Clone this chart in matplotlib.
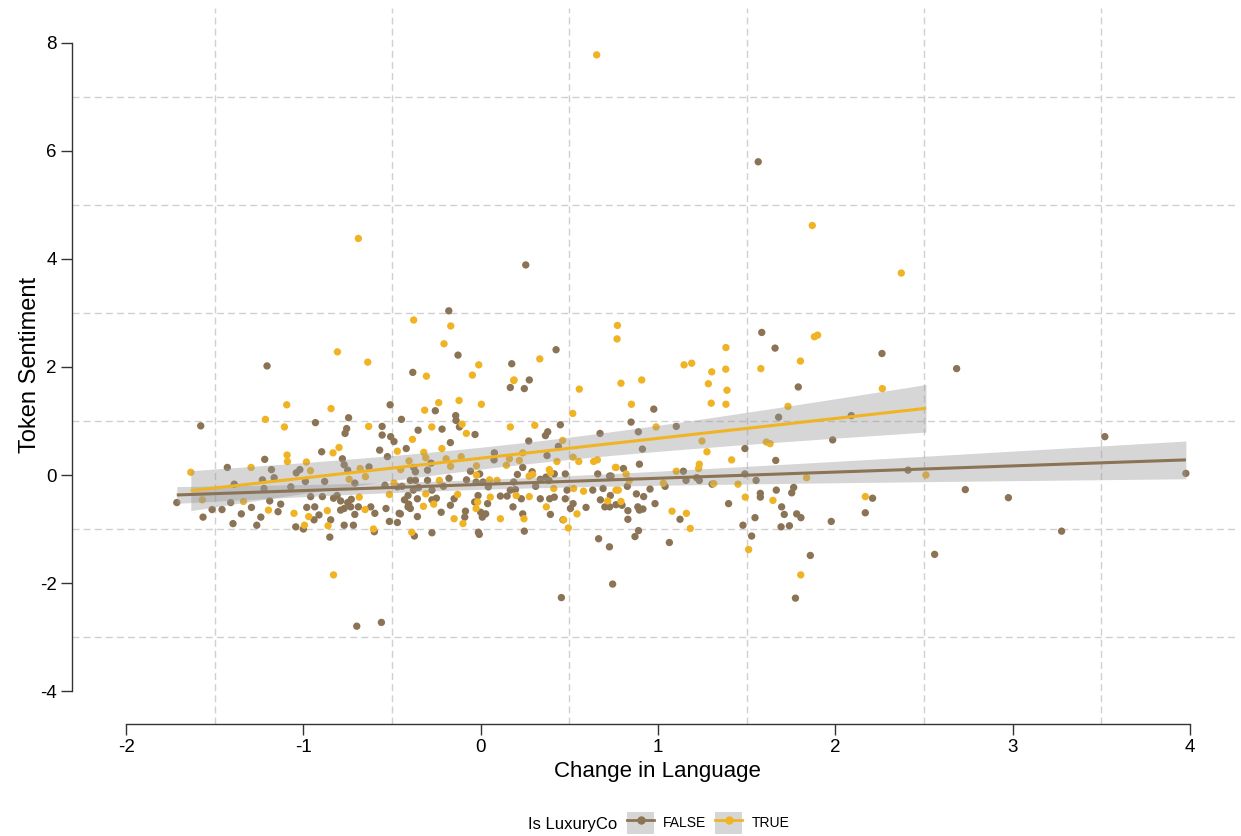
import numpy as np
import matplotlib
matplotlib.use("Agg")
import matplotlib.pyplot as plt
from matplotlib.lines import Line2D
from matplotlib.patches import Rectangle
from matplotlib.legend_handler import HandlerTuple

plt.rcParams['font.family'] = ['Liberation Sans', 'DejaVu Sans']

BROWN = '#8B7355'
GOLD = '#F0B323'

# Is LuxuryCo == TRUE  (change in language, token sentiment)
true_pts = [
    (-1.094, 1.30), (-0.844, 1.23), (-1.214, 1.03), (-1.107, 0.89), (-1.635, 0.05),
    (-1.092, 0.37), (-1.090, 0.25), (-1.295, 0.14), (-0.983, 0.24), (-0.833, 0.41),
    (-0.799, 0.51), (-0.632, 0.90), (-0.47, 0.44), (-1.338, -0.49), (-1.197, -0.65),
    (-1.053, -0.71), (-0.994, -0.93), (-0.97, -0.77), (-0.861, -0.94), (-0.865, -0.66),
    (-0.685, -0.41), (-0.652, -0.64), (-0.605, -1.0), (-0.515, -0.36), (-0.489, -0.15),
    (-0.451, 0.10), (-0.742, -0.08), (-0.68, 0.12), (-0.65, -0.03), (-0.96, 0.08),
    (-1.57, -0.46),
    (0.186, 1.75), (0.556, 1.59), (-0.316, 1.20), (-0.237, 1.34), (-0.122, 1.38),
    (0.004, 1.31), (-0.276, 0.89), (-0.105, 0.94), (-0.081, 0.77), (0.167, 0.89),
    (0.305, 0.92), (0.519, 1.14), (-0.385, 0.66), (-0.321, 0.42), (-0.31, 0.32),
    (-0.219, 0.49), (-0.11, 0.34), (-0.195, 0.30), (-0.17, 0.16), (-0.024, 0.17),
    (0.145, 0.18), (0.218, 0.27), (0.162, 0.30), (0.237, 0.41), (0.43, 0.25),
    (0.462, 0.64), (0.521, 0.33), (0.553, 0.25), (0.637, 0.25), (0.658, 0.28),
    (0.76, 0.14), (0.387, 0.10), (0.393, 0.04), (0.273, -0.02), (0.293, 0.01),
    (-0.404, 0.26), (-0.233, -0.10), (0.05, -0.09), (0.092, -0.10), (-0.024, 0.0),
    (-0.31, -0.35), (-0.323, -0.58), (-0.265, -0.54), (-0.13, -0.36), (-0.017, -0.50),
    (0.054, -0.41), (-0.026, -0.62), (-0.15, -0.81), (-0.10, -0.90), (0.111, -0.81),
    (0.20, -0.38), (0.274, -0.40), (0.244, -0.81), (0.37, -0.59), (0.412, -0.25),
    (0.468, -0.83), (0.494, -0.98), (0.543, -0.72), (0.524, -0.25), (0.58, -0.30),
    (0.716, -0.48), (0.763, -0.28), (-0.389, -1.06),
    (0.791, 1.70), (0.908, 1.76), (1.284, 1.69), (1.389, 1.57), (0.85, 1.31),
    (1.30, 1.33), (1.383, 1.31), (1.733, 1.27), (0.989, 0.89), (1.248, 0.63),
    (1.276, 0.43), (1.415, 0.28), (1.611, 0.61), (1.632, 0.58), (0.763, 0.14),
    (0.82, 0.02), (0.838, -0.10), (0.776, -0.28), (0.791, -0.49), (1.03, -0.15),
    (1.103, 0.07), (1.233, 0.20), (1.229, 0.12), (1.314, -0.16), (1.451, -0.17),
    (1.492, -0.41), (1.648, -0.47), (1.838, -0.05), (1.079, -0.67), (1.16, -0.71),
    (1.182, -0.99), (1.511, -1.38),
    (2.265, 1.60), (2.511, 0.0), (2.169, -0.40),
    (-0.69, 4.38), (-0.378, 2.87), (-0.808, 2.28), (-0.637, 2.09), (-0.306, 1.83),
    (-0.169, 2.76), (-0.207, 2.43), (-0.011, 2.04), (-0.047, 1.85), (0.188, 1.76),
    (0.333, 2.15), (0.771, 2.77), (0.769, 2.52), (1.147, 2.04), (1.19, 2.07),
    (1.87, 4.62), (2.372, 3.74), (1.882, 2.56), (1.90, 2.59), (1.383, 2.36),
    (1.303, 1.91), (1.382, 1.96), (1.58, 1.97), (1.803, 2.11),
    (-0.83, -1.85), (1.805, -1.85), (0.654, 7.78),
]

# Is LuxuryCo == FALSE
false_pts = [
    (-1.579, 0.91), (-1.714, -0.51), (-1.566, -0.78), (-1.515, -0.64), (-1.459, -0.64),
    (-1.429, 0.14), (-1.397, -0.90), (-1.35, -0.72), (-1.41, -0.51), (-1.39, -0.17),
    (-1.293, -0.60), (-1.263, -0.93), (-1.24, -0.78), (-1.218, 0.29), (-1.18, 0.10),
    (-1.165, -0.05), (-1.231, -0.09), (-1.222, -0.25), (-1.19, -0.48), (-1.143, -0.68),
    (-1.128, -0.54), (-1.071, -0.22), (-1.04, 0.04), (-1.02, 0.10), (-1.043, -0.96),
    (-1.0, -1.0), (-0.989, -0.12), (-0.981, -0.60), (-0.959, -0.40), (-0.932, 0.97),
    (-0.936, -0.59), (-0.94, -0.83), (-0.912, -0.74), (-0.897, 0.43), (-0.893, -0.40),
    (-0.88, -0.12), (-0.851, -1.15), (-0.846, -0.83), (-0.83, -0.43), (-0.78, 0.30),
    (-0.77, 0.19), (-0.765, 0.77), (-0.756, 0.86), (-0.745, 1.06), (-0.75, 0.09),
    (-0.77, -0.93), (-0.718, -0.93), (-0.733, -0.59), (-0.79, -0.65), (-0.71, -0.15),
    (-0.69, -0.59), (-0.63, 0.15), (-0.62, -0.59), (-0.60, -1.05), (-0.597, -0.71),
    (-0.57, 0.46), (-0.556, 0.90), (-0.556, 0.74), (-0.534, -0.62), (-0.526, 0.34),
    (-0.515, -0.86), (-0.511, 1.30), (-0.508, 0.71), (-0.489, 0.62), (-0.47, -0.88),
    (-0.46, -0.71), (-0.447, 1.03), (-0.43, -0.46), (-0.42, 0.49), (-0.54, -0.19),
    (-0.47, -0.22), (-0.41, -0.59),
    (-0.79, -0.48), (-0.75, -0.51), (-0.73, -0.45), (-0.71, -0.73), (-0.77, -0.62),
    (-0.81, -0.38),
    (0.167, 1.62), (0.246, 1.60), (-0.256, 1.19), (-0.141, 1.10), (-0.139, 1.01),
    (-0.12, 0.89), (-0.353, 0.83), (-0.218, 0.85), (-0.171, 0.60), (-0.032, 0.75),
    (0.271, 0.63), (0.365, 0.73), (0.378, 0.80), (0.449, 0.93), (0.673, 0.77),
    (0.077, 0.41), (0.374, 0.36), (0.438, 0.53), (-0.28, 0.22), (-0.378, 0.14),
    (-0.368, 0.06), (-0.30, 0.09), (-0.058, 0.07), (-0.006, 0.02), (0.075, 0.28),
    (0.237, 0.14), (0.207, 0.01), (0.29, 0.06), (0.336, -0.08), (0.368, -0.04),
    (0.415, 0.02), (0.477, 0.02), (0.66, 0.02), (0.727, -0.02), (-0.444, -0.21),
    (-0.397, -0.10), (-0.368, -0.10), (-0.35, -0.23), (-0.38, -0.28), (-0.41, -0.38),
    (-0.357, -0.44), (-0.30, -0.10), (-0.275, -0.28), (-0.21, -0.21), (-0.179, -0.06),
    (-0.08, -0.09), (-0.026, -0.13), (0.013, -0.13), (0.043, -0.22), (0.111, -0.39),
    (0.149, -0.39), (0.196, -0.27), (0.186, -0.13), (0.229, -0.44), (0.167, -0.28),
    (0.31, -0.21), (0.336, -0.44), (0.389, -0.44), (0.415, -0.41), (0.385, -0.10),
    (0.477, -0.44), (0.487, -0.28), (0.521, -0.53), (0.506, -0.62), (0.594, -0.60),
    (0.632, -0.28), (0.69, -0.25), (0.675, -0.46), (0.70, -0.59), (0.727, -0.59),
    (0.731, -0.38), (-0.453, -0.72), (-0.406, -0.54), (-0.397, -0.62), (-0.357, -0.77),
    (-0.275, -0.46), (-0.25, -0.43), (-0.223, -0.69), (-0.171, -0.56), (-0.15, -0.44),
    (-0.086, -0.67), (-0.09, -0.78), (-0.034, -0.50), (-0.015, -0.38), (0.0, -0.69),
    (0.009, -0.78), (0.028, -0.72), (-0.013, -1.06), (-0.008, -1.10), (0.039, -0.53),
    (0.182, -0.59), (0.237, -0.72), (0.246, -1.04), (0.393, -0.73), (0.464, -0.83),
    (0.665, -1.18), (0.726, -1.33), (-0.374, -1.13), (-0.275, -1.07),
    (1.791, 1.63), (0.976, 1.22), (0.848, 0.98), (0.889, 0.80), (1.103, 0.90),
    (0.912, 0.48), (1.68, 1.07), (1.985, 0.65), (1.49, 0.49), (1.664, 0.27),
    (0.805, 0.12), (0.895, 0.20), (0.735, -0.02), (1.143, 0.07), (1.158, -0.10),
    (1.218, -0.05), (1.233, -0.10), (1.04, -0.21), (1.305, -0.17), (1.49, 0.02),
    (1.553, -0.10), (0.827, -0.21), (0.955, -0.26), (0.878, -0.35), (0.919, -0.40),
    (0.983, -0.53), (0.763, -0.55), (0.797, -0.56), (0.886, -0.59), (0.895, -0.65),
    (0.915, -0.63), (0.83, -0.66), (0.83, -0.82), (0.89, -1.03), (0.87, -1.14),
    (1.064, -1.25), (1.124, -0.82), (1.398, -0.53), (1.479, -0.93), (1.547, -0.79),
    (1.528, -1.13), (1.577, -0.34), (1.577, -0.41), (1.667, -0.28), (1.754, -0.33),
    (1.765, -0.23), (1.697, -0.59), (1.712, -0.73), (1.782, -0.72), (1.806, -0.79),
    (1.694, -0.96), (1.741, -0.94), (1.977, -0.86), (1.859, -1.49),
    (2.09, 1.10), (3.52, 0.71), (2.41, 0.09), (3.977, 0.03), (2.21, -0.43),
    (2.733, -0.27), (2.976, -0.42), (2.169, -0.70), (3.276, -1.04), (2.56, -1.47),
    (-1.205, 2.02), (-0.383, 1.90),
    (0.254, 3.89), (-0.18, 3.04), (-0.128, 2.22), (0.175, 2.06), (0.274, 1.76),
    (0.425, 2.32),
    (1.585, 2.64), (1.66, 2.35), (2.263, 2.25), (2.684, 1.97),
    (-0.699, -2.80), (-0.56, -2.73), (0.455, -2.27), (0.744, -2.02), (1.775, -2.28),
    (1.565, 5.80),
]

# linear fits: x range, fitted y at both ends,
# and 95% band half-width at left end / narrowest point / right end
fit_x = {'FALSE': [-1.714, 3.977], 'TRUE': [-1.635, 2.511]}
fit_y = {'FALSE': [-0.37, 0.28], 'TRUE': [-0.29, 1.235]}
fit_halfwidth = {'FALSE': [0.155, 0.09, 0.35], 'TRUE': [0.37, 0.20, 0.44]}

x_ticks = [-2, -1, 0, 1, 2, 3, 4]
y_ticks = [-4, -2, 0, 2, 4, 6, 8]
x_grid = [-1.5, -0.5, 0.5, 1.5, 2.5, 3.5]
y_grid = [-3, -1, 1, 3, 5, 7]


def lm_band(key):
    # straight fit line plus the usual hyperbolic confidence band of an lm
    (x0, x1), (y0, y1) = fit_x[key], fit_y[key]
    hl, hmin, hr = fit_halfwidth[key]
    a = hmin ** 2
    r = np.sqrt((hl ** 2 - a) / (hr ** 2 - a))
    m = (x0 + r * x1) / (1 + r)
    b = (hl ** 2 - a) / (m - x0) ** 2
    xs = np.linspace(x0, x1, 100)
    fit = y0 + (y1 - y0) * (xs - x0) / (x1 - x0)
    half = np.sqrt(a + b * (xs - m) ** 2)
    return xs, fit, fit - half, fit + half


fig = plt.figure(figsize=(12.41, 8.36), dpi=100)
ax = fig.add_axes([72 / 1241, 112 / 836, 1163 / 1241, 716 / 836])

groups = [('FALSE', false_pts, BROWN), ('TRUE', true_pts, GOLD)]
for key, pts, col in groups:
    px, py = zip(*pts)
    ax.scatter(px, py, s=28, color=col, edgecolors='none', zorder=2)

for key, pts, col in groups:
    xs, fit, lo, hi = lm_band(key)
    ax.fill_between(xs, lo, hi, color='#999999', alpha=0.4, linewidth=0, zorder=3)
    ax.plot(xs, fit, color=col, lw=2.2, zorder=4, solid_capstyle='butt')

ax.set_xlim(-2.305, 4.254)
ax.set_ylim(-4.611, 8.648)

ax.set_xticks(x_ticks)
ax.set_xticklabels([str(v) for v in x_ticks])
ax.set_yticks(y_ticks)
ax.set_yticklabels([str(v) for v in y_ticks])
ax.set_xticks(x_grid, minor=True)
ax.set_yticks(y_grid, minor=True)
ax.tick_params(which='minor', length=0)
ax.tick_params(which='major', length=8, width=1, color='#333333',
               labelsize=13.5, labelcolor='black', pad=3)
ax.grid(False, which='major')
ax.grid(True, which='minor', color='#d0d0d0', lw=1, ls=(0, (5, 3)))
ax.set_axisbelow(True)

for side in ['top', 'right']:
    ax.spines[side].set_visible(False)
ax.spines['left'].set_bounds(-4, 8)
ax.spines['bottom'].set_bounds(-2, 4)
for side in ['left', 'bottom']:
    ax.spines[side].set_color('#333333')
    ax.spines[side].set_linewidth(1)

ax.set_xlabel('Change in Language', fontsize=16, va='center')
ax.xaxis.set_label_coords(0.503, -0.066)
ax.set_ylabel('Token Sentiment', fontsize=17, va='center')
ax.yaxis.set_label_coords(-0.036, 0.501)

# legend along the bottom, title on the left
fig.text(617 / 1241, 12 / 836, 'Is LuxuryCo', fontsize=12, ha='right', va='center')
handles = []
for col in [BROWN, GOLD]:
    box = Rectangle((0, 0), 1, 1, facecolor='#d6d6d6', edgecolor='none')
    ln = Line2D([], [], color=col, lw=2, marker='o', markersize=5)
    handles.append((box, ln))
fig.legend(handles, ['FALSE', 'TRUE'], loc='center left',
           bbox_to_anchor=(627 / 1241, 13 / 836), ncol=2, frameon=False,
           fontsize=10, handlelength=1.95, handleheight=1.95,
           handletextpad=0.65, columnspacing=0.65, borderpad=0, borderaxespad=0,
           handler_map={tuple: HandlerTuple(ndivide=1, pad=0)})

fig.savefig('out.png', dpi=100)
